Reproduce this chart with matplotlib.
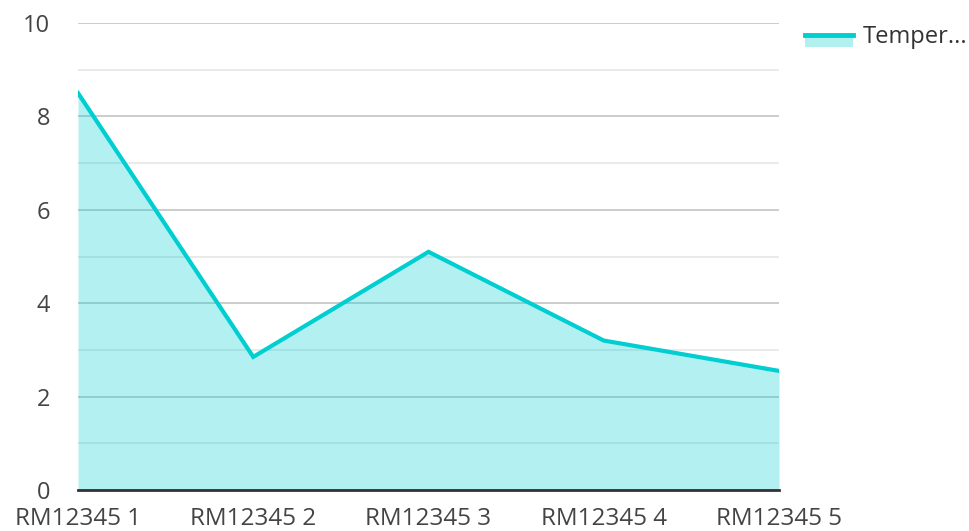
import matplotlib
matplotlib.use('Agg')
import matplotlib.pyplot as plt
from matplotlib.patches import Rectangle
from matplotlib.lines import Line2D

categories = ["RM12345 1", "RM12345 2", "RM12345 3", "RM12345 4", "RM12345 5"]
temperature = [8.5, 2.85, 5.1, 3.2, 2.55]
series_name = "Temper..."

LINE = "#00CED1"
FILL = "#B2EFEF"

plt.rcParams['font.family'] = ['Open Sans', 'DejaVu Sans']

W, H = 969, 531
fig = plt.figure(figsize=(W / 100, H / 100), dpi=100)
ax = fig.add_axes([78 / W, 1 - 490 / H, (779 - 78) / W, (490 - 23) / H])

x = list(range(len(categories)))
ax.fill_between(x, temperature, 0, color=LINE, alpha=0.3, linewidth=0, zorder=3)
ax.plot(x, temperature, color=LINE, linewidth=3, solid_joinstyle='miter', zorder=4)

ax.set_xlim(0, len(categories) - 1)
ax.set_ylim(0, 10)
ax.set_yticks([0, 2, 4, 6, 8, 10])
ax.set_yticks([1, 3, 5, 7, 9], minor=True)
ax.set_xticks(x)
ax.set_xticklabels(categories)

ax.grid(True, which='major', axis='y', color='#C4C4C4', linewidth=1.2, zorder=1)
ax.grid(True, which='minor', axis='y', color='#E6E6E6', linewidth=1.2, zorder=1)
ax.set_axisbelow(True)

for side in ['left', 'right', 'top']:
    ax.spines[side].set_visible(False)
ax.spines['bottom'].set_color('#333333')
ax.spines['bottom'].set_linewidth(2)
ax.spines['bottom'].set_zorder(5)

ax.tick_params(axis='both', which='both', length=0, labelcolor='#444444')
ax.tick_params(axis='y', labelsize=17, pad=20)
ax.tick_params(axis='x', labelsize=17.5, pad=12)

# legend drawn in figure pixels
fig.patches.append(Rectangle((805 / W, 1 - 47 / H), 48 / W, 14 / H,
                             transform=fig.transFigure, facecolor=FILL,
                             edgecolor='none'))
fig.lines.append(Line2D([805 / W, 853 / W], [1 - 35 / H, 1 - 35 / H],
                        transform=fig.transFigure, color=LINE, linewidth=3.5))
fig.text(863 / W, 1 - 37 / H, series_name, fontsize=17, color='#333333',
         va='center', ha='left')

fig.savefig("out.png", dpi=100)
